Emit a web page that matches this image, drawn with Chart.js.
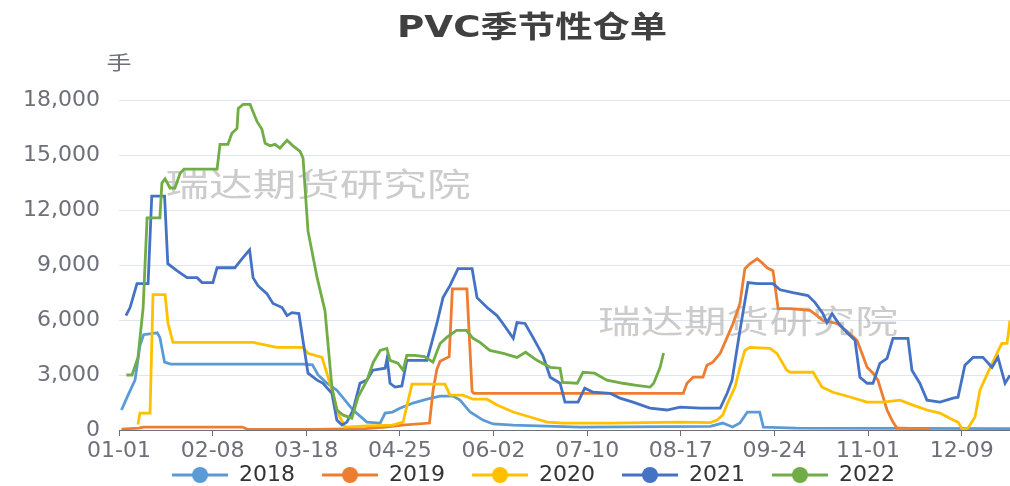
<!DOCTYPE html>
<html>
<head>
<meta charset="utf-8">
<script src="https://cdn.jsdelivr.net/npm/chart.js@4.4.1/dist/chart.umd.min.js"></script>
<style>
  html, body { margin: 0; padding: 0; background: #fff; }
  #wrap { width: 1010px; height: 486px; position: relative; }
</style>
</head>
<body>
<div id="wrap"><canvas id="chart"></canvas></div>
<script>
// x = day of year (0 = 01-01), y = 手
const tickLabels = ['01-01', '02-08', '03-18', '04-25', '06-02', '07-10', '08-17', '09-24', '11-01', '12-09'];
const tickStep = 38;
const seriesNames = ['2018', '2019', '2020', '2021', '2022'];
const seriesColors = ['#5B9BD5', '#ED7D31', '#FFC000', '#4472C4', '#70AD47'];

const days2018 = [1, 4, 6.5, 8.5, 10, 15.5, 16.6, 18.5, 21, 74.7, 78.5, 80.8, 84, 88.4, 95, 100.6, 106, 108, 111, 114, 119.3, 125, 130.3, 135.5, 138.4, 142.5, 147.7, 151.8, 160, 187, 240, 245, 249, 252, 255, 260, 261.5, 275, 362];
const vals2018 = [1090, 2000, 2720, 4600, 5200, 5300, 5050, 3700, 3590, 3590, 3560, 3000, 2600, 2170, 1090, 430, 380, 920, 980, 1190, 1470, 1680, 1850, 1850, 1630, 980, 540, 330, 270, 160, 200, 380, 160, 380, 980, 980, 160, 100, 80];

const days2019 = [1, 8, 10, 50, 52, 80, 100, 108, 115, 126, 127.5, 129, 130.3, 134, 135.3, 141.2, 143.3, 144, 229, 230.5, 233, 237, 238.6, 241, 244, 246.8, 249.2, 252, 254, 256, 259, 261, 263, 265.4, 267.5, 272.3, 280.4, 283.3, 285.7, 291.4, 295.5, 299.5, 301.5, 303.6, 306, 308, 311.7, 314.1, 315.7, 329];
const vals2019 = [50, 100, 160, 160, 50, 30, 80, 160, 270, 380, 2200, 3300, 3750, 4000, 7700, 7700, 2100, 2000, 2000, 2550, 2880, 2880, 3530, 3700, 4180, 5050, 5810, 6900, 8800, 9070, 9340, 9120, 8850, 8690, 6620, 6620, 6520, 6240, 5970, 5810, 5380, 4890, 4180, 3420, 3100, 2720, 1090, 430, 110, 50];

const days2020 = [7.7, 8.5, 12.6, 13.8, 18.7, 19.9, 21.9, 54.4, 64, 74.7, 76.7, 82.4, 85.6, 88.9, 91.7, 100.6, 111, 115.3, 118.9, 132.3, 134.3, 139.6, 143.7, 149.4, 153.4, 160, 166.8, 173.7, 180.2, 200, 227.7, 240, 242.7, 245, 247, 250, 252, 254, 256, 264.2, 267, 271, 272.4, 281.7, 285.3, 289.8, 296.7, 303.6, 310, 317, 322.2, 327.9, 333.2, 338.5, 340.5, 342.5, 344.6, 347.4, 349.4, 352.7, 356.3, 358.3, 360.4, 361.6];
const vals2020 = [300, 920, 920, 7380, 7380, 5810, 4780, 4780, 4510, 4510, 4180, 3960, 2550, 920, 160, 220, 270, 430, 2500, 2500, 1900, 1900, 1680, 1680, 1360, 980, 710, 430, 380, 380, 430, 400, 540, 810, 1470, 2340, 3420, 4340, 4510, 4450, 4180, 3260, 3150, 3150, 2340, 2060, 1800, 1520, 1520, 1630, 1360, 1090, 920, 540, 430, 0, 110, 710, 2170, 3150, 4180, 4720, 4720, 5970];

const days2021 = [2.8, 4.5, 7.3, 11.8, 13.3, 18.5, 19.8, 23.5, 27.6, 31.7, 33.7, 38.1, 39.8, 47, 49.9, 53, 54.4, 56.4, 60, 62.5, 66.2, 68.2, 70.2, 73, 76.7, 80.4, 82.8, 86.4, 88.4, 90.5, 92.5, 95, 97.8, 100.6, 103, 108, 108.8, 110, 112, 114.8, 116.8, 125, 129, 131.5, 134.3, 137.6, 143.3, 145.3, 149.4, 153.4, 155.8, 160, 161.5, 164.8, 168, 172, 175, 179, 181, 186.3, 189, 192.4, 199.3, 203.3, 208.6, 215.5, 222.4, 227.7, 235.8, 244, 246.8, 248.8, 252, 255.3, 259, 265.4, 268.3, 273.5, 279.6, 282.5, 285.7, 287.3, 289.4, 291.8, 295.5, 298.7, 300.7, 303.6, 306, 308.8, 311.7, 314.1, 320.2, 321.8, 325, 327.9, 333.2, 338.5, 340.5, 343.3, 346.6, 350.6, 354.3, 356.7, 359.6, 361.6];
const vals2021 = [6240, 6680, 7980, 7980, 12760, 12760, 9070, 8690, 8310, 8310, 8040, 8040, 8850, 8850, 9340, 9830, 8310, 7870, 7440, 6900, 6680, 6240, 6400, 6350, 3100, 2720, 2550, 2000, 540, 270, 430, 1090, 2550, 2720, 3260, 3370, 3910, 2550, 2340, 2400, 3800, 3800, 5810, 7220, 7870, 8800, 8800, 7220, 6680, 6240, 5810, 5000, 5860, 5810, 5050, 4070, 2880, 2550, 1520, 1520, 2280, 2060, 2000, 1740, 1520, 1190, 1090, 1250, 1190, 1190, 2000, 2720, 5430, 8040, 7980, 7980, 7650, 7490, 7330, 6950, 6350, 5860, 6350, 5860, 5300, 4890, 2880, 2550, 2550, 3640, 3910, 5000, 5000, 3260, 2550, 1630, 1520, 1740, 1790, 3530, 3960, 3960, 3420, 3960, 2550, 2990];

const days2022 = [3, 5.3, 7.7, 9.8, 11.4, 16.6, 17.4, 18.7, 20.7, 22.7, 24.8, 26.4, 39.8, 41, 44.2, 45.8, 47.9, 48.4, 50.4, 53.2, 56, 58, 59.3, 61.3, 63.3, 65.3, 68.2, 70.6, 73.5, 74.7, 76.7, 80.4, 83.6, 86.4, 88.4, 91, 94.5, 97, 100.6, 103.2, 106, 108.7, 110, 113.2, 115.3, 116.8, 120, 124, 127.4, 130.3, 133, 137, 141, 143.7, 146.5, 150.5, 156, 161.5, 165, 169.6, 175, 179, 180, 186, 188.3, 193, 198, 204.5, 210, 215.5, 217, 219.6, 221];
const vals2022 = [3000, 3000, 3960, 6680, 11570, 11570, 13470, 13700, 13200, 13200, 14000, 14230, 14230, 15580, 15580, 16190, 16450, 17540, 17760, 17760, 16830, 16400, 15640, 15500, 15580, 15370, 15800, 15500, 15200, 14820, 10860, 8310, 6500, 2340, 1090, 810, 650, 1800, 2700, 3700, 4340, 4450, 3800, 3640, 3260, 4070, 4070, 4000, 3700, 4720, 5050, 5430, 5430, 5000, 4780, 4340, 4180, 3960, 4240, 3800, 3420, 3370, 2600, 2550, 3150, 3100, 2720, 2550, 2440, 2340, 2550, 3420, 4200];

const seriesDays = [days2018, days2019, days2020, days2021, days2022];
const seriesVals = [vals2018, vals2019, vals2020, vals2021, vals2022];

Chart.defaults.font.family = "'DejaVu Sans', 'Noto Sans CJK SC', sans-serif";

// legend marker: line with a dot; the transparent left margin spaces the items
function legendMarker(color) {
    const c = document.createElement('canvas');
    c.width = 83; c.height = 20;
    const g = c.getContext('2d');
    g.strokeStyle = color;
    g.lineWidth = 3;
    g.beginPath(); g.moveTo(27, 10); g.lineTo(83, 10); g.stroke();
    g.fillStyle = color;
    g.beginPath(); g.arc(55, 10, 8, 0, Math.PI * 2); g.fill();
    return c;
}

function stretchedText(ctx, text, cx, cy, font, color, targetWidth) {
    ctx.save();
    ctx.font = font;
    ctx.fillStyle = color;
    ctx.textAlign = 'center';
    ctx.textBaseline = 'middle';
    const w = ctx.measureText(text).width;
    ctx.translate(cx, cy);
    ctx.scale(targetWidth / w, 1);
    ctx.fillText(text, 0, 0);
    ctx.restore();
}

const decorPlugin = {
    id: 'decor',
    afterLayout(chart) {
        // legend row sits a little right of centre in the original
        chart.legend.left += 15;
        chart.legend.right += 15;
    },
    beforeDatasetsDraw(chart) {
        const ctx = chart.ctx;
        const font = "32px 'Noto Sans CJK SC', sans-serif";
        stretchedText(ctx, '瑞达期货研究院', 318, 184, font, 'rgba(170,170,170,0.6)', 305);
        stretchedText(ctx, '瑞达期货研究院', 748, 321, font, 'rgba(170,170,170,0.6)', 300);
    },
    afterDraw(chart) {
        const ctx = chart.ctx;
        stretchedText(ctx, 'PVC季节性仓单', 532, 29, "bold 30px 'DejaVu Sans', 'Noto Sans CJK SC', sans-serif", '#404040', 270);
        stretchedText(ctx, '手', 119, 63, "19px 'Noto Sans CJK SC', sans-serif", '#6E7079', 25);
    }
};

const datasets = seriesNames.map((name, i) => ({
    label: name,
    data: seriesDays[i].map((d, j) => ({ x: d, y: seriesVals[i][j] })),
    borderColor: seriesColors[i],
    backgroundColor: seriesColors[i],
    borderWidth: 2.8,
    pointRadius: 0,
    pointHoverRadius: 0,
    pointStyle: legendMarker(seriesColors[i]),
    tension: 0,
    fill: false,
    order: seriesNames.length - i
}));

new Chart(document.getElementById('chart'), {
    type: 'line',
    data: { datasets },
    options: {
        responsive: true,
        maintainAspectRatio: false,
        animation: false,
        layout: { padding: { top: 100, left: 0, right: 0, bottom: -10 } },
        plugins: {
            title: { display: false },
            tooltip: { enabled: false },
            legend: {
                position: 'bottom',
                labels: {
                    usePointStyle: true,
                    pointStyleWidth: 83,
                    padding: 0,
                    color: '#333',
                    font: { size: 22 },
                    sort: (a, b) => a.datasetIndex - b.datasetIndex
                }
            }
        },
        scales: {
            x: {
                type: 'linear',
                min: 0,
                max: 361.6,
                afterFit(scale) { scale.height = 34; },
                afterBuildTicks(scale) {
                    scale.ticks = tickLabels.map((l, i) => ({ value: i * tickStep }));
                },
                ticks: {
                    autoSkip: false,
                    maxRotation: 0,
                    padding: 2,
                    color: '#6E7079',
                    font: { size: 22 },
                    callback: (v, i) => tickLabels[i]
                },
                grid: { display: true, drawOnChartArea: false, drawTicks: true, tickLength: 6, color: '#6E7079' },
                border: { display: true, color: '#6E7079', width: 1 }
            },
            y: {
                min: 0,
                max: 18000,
                afterFit(scale) { scale.width = 119; },
                ticks: {
                    stepSize: 3000,
                    padding: 19,
                    color: '#6E7079',
                    font: { size: 22 },
                    callback: v => v.toLocaleString('en-US')
                },
                grid: { color: '#E0E6F1', drawTicks: false },
                border: { display: false }
            }
        }
    },
    plugins: [decorPlugin]
});
</script>
</body>
</html>
